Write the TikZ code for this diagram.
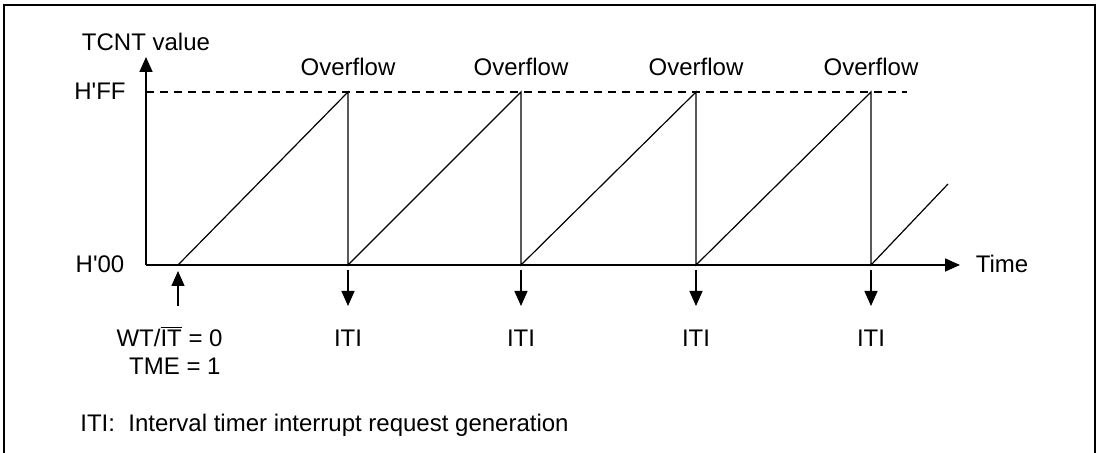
\documentclass[tikz,border=0pt]{standalone}
\usepackage{fontspec}
\setmainfont{Liberation Sans}
\usetikzlibrary{arrows.meta}

\begin{document}
\begin{tikzpicture}[x=0.5pt,y=-0.5pt,
  lbl/.style={font=\fontsize{12}{14}\selectfont, inner sep=0pt},
  axis/.style={-{Triangle[length=7.5pt,width=6.5pt]}, line width=0.85pt},
  ptr/.style={-{Triangle[length=7.5pt,width=6.5pt]}, line width=0.7pt},
  ramp/.style={line width=0.6pt}]

\useasboundingbox (0,0) rectangle (1100,453);
\begin{scope}
\clip (0,0) rectangle (1100,453);
\draw[line width=0.75pt] (4,5) rectangle (1095,470);
\end{scope}

%   ejes
\coordinate (o) at (146,265);
\coordinate (ytop) at (146,57);
\coordinate (xend) at (960,265);
\coordinate (ffa) at (146,92);
\coordinate (ffb) at (907,92);
\draw[axis] (o)--(ytop);
\draw[axis] (o)--(xend);
\draw[ramp, dash pattern=on 4pt off 3pt] (ffa)--(ffb);

\node[lbl] (yname) at (146,42) {TCNT value};
\node[lbl] (xname) at (1002,264) {Time};
\node[lbl] (hff) at (100,91) {H\textquotesingle FF};
\node[lbl] (hzero) at (100,264) {H\textquotesingle 00};

%   diente de sierra
\coordinate (s0) at (178,265);
\coordinate (t0) at (178,306);
\foreach \x [count=\i] in {348,521,696,871}{
  \coordinate (top\i) at (\x,92);
  \coordinate (s\i) at (\x,265);
  \coordinate (a\i) at (\x,270);
  \coordinate (t\i) at (\x,306);
  \node[lbl] (ovf\i) at (\x,67) {Overflow};
  \node[lbl] (iti\i) at (\x,338) {ITI};
  \draw[ptr] (a\i)--(t\i);
}
\coordinate (tail) at (948,184);
\draw[ramp] (s0)--(top1)--(s1)--(top2)--(s2)--(top3)--(s3)--(top4)--(s4)--(tail);

%   inicio
\coordinate (a0) at (178,271);
\draw[ptr] (t0)--(a0);
\node[lbl, anchor=base east] (wtit) at (223,347) {WT/$\overline{\mbox{IT}}$ = 0};
\node[lbl, anchor=base east] (tme) at (221,375) {TME = 1};

\node[lbl, anchor=base west] (note) at (80,432) {ITI:\ \ Interval timer interrupt request generation};
\end{tikzpicture}
\end{document}
